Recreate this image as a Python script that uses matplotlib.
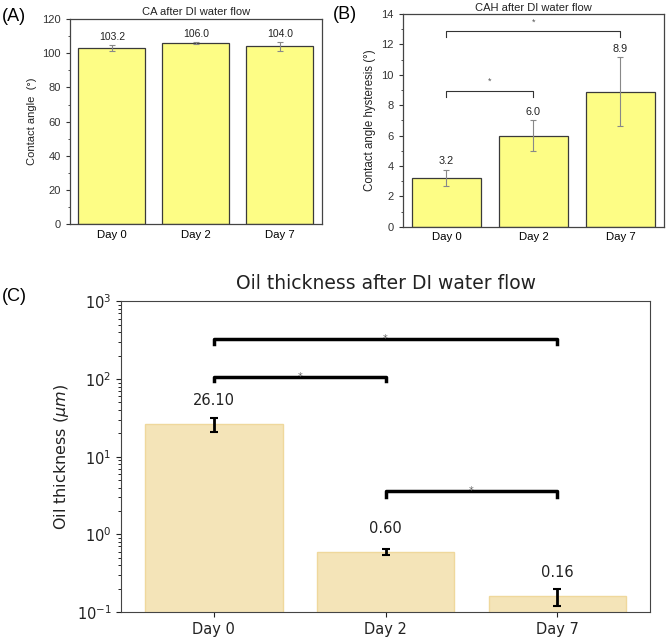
import matplotlib

matplotlib.use("Agg")
import matplotlib.pyplot as plt
from matplotlib.ticker import MultipleLocator
import numpy as np

# data
days = ["Day 0", "Day 2", "Day 7"]
ca_mean = [103.2, 106.0, 104.0]
ca_err = [1.6, 0.5, 2.9]
cah_mean = [3.2, 6.0, 8.9]
cah_err = [0.55, 1.0, 2.26]
oil_mean = [26.10, 0.60, 0.16]
oil_err = [5.5, 0.05, 0.04]

# significance brackets: (left bar, right bar, height, leg bottom)
cah_brackets = [(0, 2, 12.85, 12.5), (0, 1, 8.95, 8.55)]
oil_brackets = [(0, 2, 330, 280), (0, 1, 107, 94), (1, 2, 3.66, 3.06)]

ORIGIN_FONT = ["Liberation Sans", "DejaVu Sans"]
BAR_YELLOW = "#fdfd85"
EDGE = "#3a3a3a"

fig = plt.figure(figsize=(6.66, 6.37), dpi=100)
x = np.arange(len(days))


def origin_style(ax, ymax, major, minor):
    ax.set_xlim(-0.5, 2.5)
    ax.set_ylim(0, ymax)
    ax.yaxis.set_major_locator(MultipleLocator(major))
    ax.yaxis.set_minor_locator(MultipleLocator(minor))
    ax.set_xticks(x)
    ax.set_xticklabels(days, fontsize=8.2, family=ORIGIN_FONT)
    for lab in ax.get_yticklabels():
        lab.set_family(ORIGIN_FONT)
        lab.set_fontsize(8)
    ax.tick_params(axis="y", which="major", length=3, width=0.8, colors="#333")
    ax.tick_params(axis="y", which="minor", length=1.8, width=0.6, colors="#333")
    ax.tick_params(axis="x", length=0, pad=4)
    for sp in ax.spines.values():
        sp.set_color("#444")
        sp.set_linewidth(0.9)


# (A) contact angle
axA = fig.add_axes([0.105, 0.648, 0.378, 0.322])
axA.bar(x, ca_mean, width=0.8, color=BAR_YELLOW, edgecolor=EDGE, linewidth=0.9)
axA.errorbar(x, ca_mean, yerr=ca_err, fmt="none", ecolor="#888", elinewidth=0.8,
             capsize=2, capthick=0.8)
for xi, m, e in zip(x, ca_mean, ca_err):
    axA.text(xi, m + e + 4.5, f"{m:.1f}", ha="center", va="center", fontsize=7.5,
             family=ORIGIN_FONT, color="#222")
origin_style(axA, 120, 20, 10)
axA.set_title("CA after DI water flow", fontsize=8, family=ORIGIN_FONT, pad=3, color="#222")
axA.set_ylabel("Contact angle  (°)", fontsize=8, family=ORIGIN_FONT, color="#222")

# (B) contact angle hysteresis
axB = fig.add_axes([0.605, 0.644, 0.392, 0.334])
axB.bar(x, cah_mean, width=0.8, color=BAR_YELLOW, edgecolor=EDGE, linewidth=0.9)
axB.errorbar(x, cah_mean, yerr=cah_err, fmt="none", ecolor="#888", elinewidth=0.8,
             capsize=2, capthick=0.8)
for xi, m, e in zip(x, cah_mean, cah_err):
    axB.text(xi, m + e + 0.55, f"{m:.1f}", ha="center", va="center", fontsize=7.8,
             family=ORIGIN_FONT, color="#222")
for a, b, h, low in cah_brackets:
    axB.plot([a, a, b, b], [low, h, h, low], color="#333", linewidth=0.8)
    axB.text((a + b) / 2, h + 0.3, "*", ha="center", va="bottom", fontsize=6.5,
             color="#555", family=ORIGIN_FONT)
origin_style(axB, 14, 2, 1)
axB.set_title("CAH after DI water flow", fontsize=8, family=ORIGIN_FONT, pad=2, color="#222")
axB.set_ylabel("Contact angle hysteresis (°)", fontsize=8.3, family=ORIGIN_FONT, color="#222")

# (C) oil thickness, log scale
axC = fig.add_axes([0.182, 0.039, 0.794, 0.488])
axC.bar(x, oil_mean, width=0.8, color="#f4e4b8", edgecolor="#efd89c", linewidth=1)
axC.errorbar(x, oil_mean, yerr=oil_err, fmt="none", ecolor="black", elinewidth=2,
             capsize=3, capthick=1.5)
for xi, m in zip(x, oil_mean):
    axC.text(xi, m * 2, f"{m:.2f}", ha="center", va="center", fontsize=10.5, color="#222")
for a, b, h, low in oil_brackets:
    axC.plot([a, a, b, b], [low, h, h, low], color="black", linewidth=2.5)
    axC.text((a + b) / 2, h * 1.0, "*", ha="center", va="center", fontsize=7, color="#666")
axC.set_yscale("log")
axC.set_ylim(0.1, 1000)
axC.set_xticks(x)
axC.set_xticklabels(days, fontsize=10.5)
axC.tick_params(axis="both", labelsize=10.5, colors="#222")
axC.set_title("Oil thickness after DI water flow", fontsize=13.5, color="#222", pad=9)
axC.set_ylabel(r"Oil thickness ($\mu m$)", fontsize=11.5, color="#222")
for sp in axC.spines.values():
    sp.set_color("#444")

# panel letters
fig.text(0.003, 0.988, "(A)", fontsize=13, family=ORIGIN_FONT, va="top")
fig.text(0.5, 0.99, "(B)", fontsize=13, family=ORIGIN_FONT, va="top")
fig.text(0.003, 0.548, "(C)", fontsize=13, family=ORIGIN_FONT, va="top")

fig.savefig("out.png", dpi=100)
